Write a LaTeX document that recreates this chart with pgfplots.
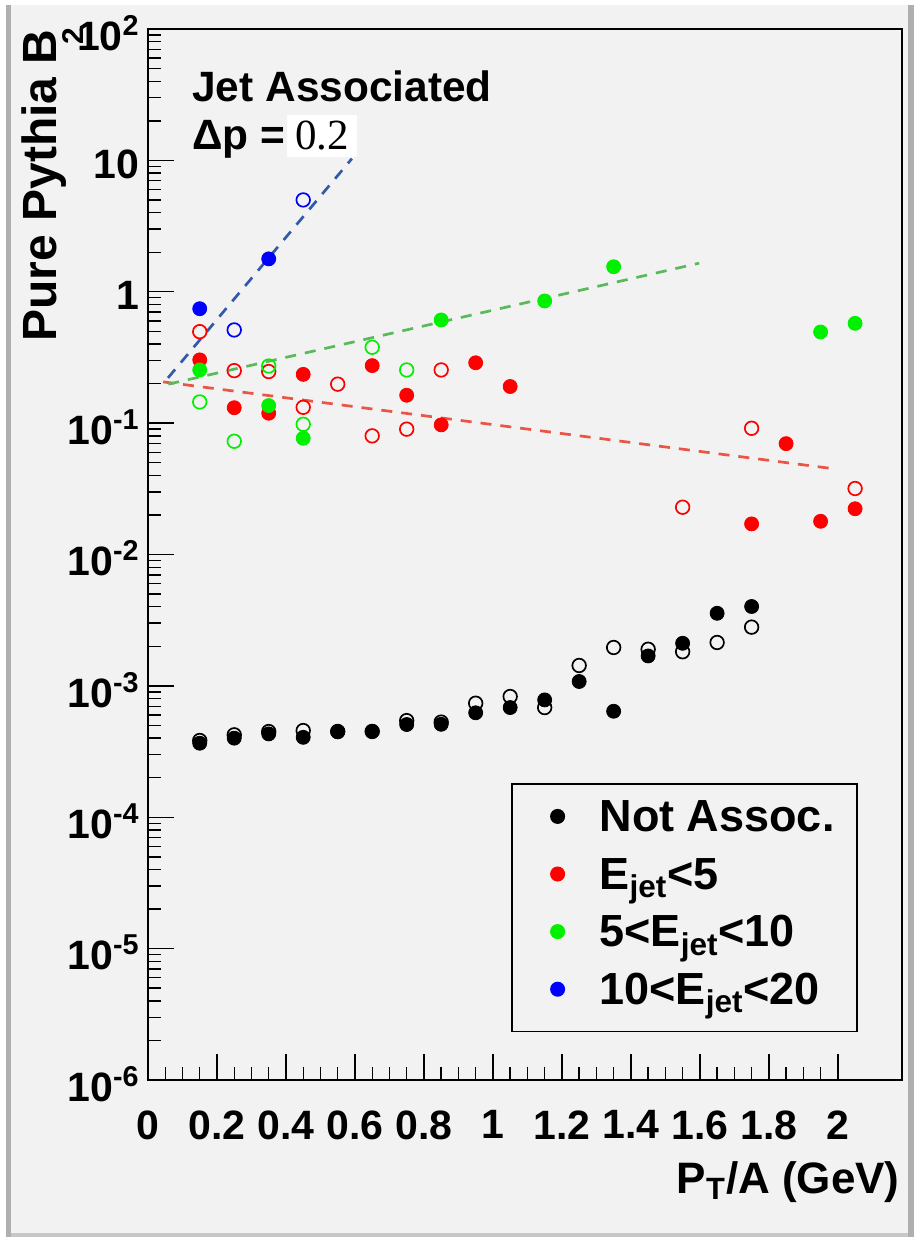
\documentclass[border=0pt]{standalone}
\usepackage{fontspec}
\setmainfont{Liberation Sans}
\newfontfamily\serifnum{Liberation Serif}
\usepackage{pgfplots}
\pgfplotsset{compat=1.18}
\definecolor{rootbg}{RGB}{242,242,242}
\definecolor{rootframe}{RGB}{175,175,175}
\definecolor{fitred}{RGB}{235,85,70}
\definecolor{fitgreen}{RGB}{90,185,90}
\definecolor{fitblue}{RGB}{50,90,170}
\definecolor{mred}{RGB}{255,0,0}
\definecolor{mgreen}{RGB}{0,240,0}
\definecolor{mblue}{RGB}{0,0,255}

\begin{document}
\begin{tikzpicture}
% canvas (1 px of the reference = 0.5pt, axis corner at the origin)
\fill[rootbg] (-74pt,-78.5pt) rectangle (386.5pt,540pt);
\fill[white] (-74pt,-78.5pt) rectangle (-71pt,540pt);
\fill[white] (-74pt,537.5pt) rectangle (386.5pt,540pt);
\fill[rootframe] (-71pt,-78.5pt) rectangle (-68.5pt,537.5pt);
\fill[rootframe] (380pt,-78.5pt) rectangle (383pt,537.5pt);
\fill[white] (383pt,-78.5pt) rectangle (386.5pt,540pt);
\fill[rootframe!70] (-68.5pt,-78.5pt) rectangle (380pt,-76.5pt);

\begin{axis}[
    scale only axis,
    width=377pt, height=525.5pt,
    xmin=0, xmax=2.186,
    ymode=log, ymin=1e-6, ymax=100,
    tick pos=left,
    tick align=inside,
    axis line style={line width=1.2pt},
    every tick/.style={black, line width=0.7pt},
    major tick length=13pt,
    minor tick length=6.5pt,
    xtick={0,0.2,...,2.01},
    xticklabels={0,0.2,0.4,0.6,0.8,1,1.2,1.4,1.6,1.8,2},
    minor x tick num=3,
    ytick={1e-6,1e-5,1e-4,1e-3,1e-2,1e-1,1,10,100},
    yticklabels={10\textsuperscript{-6},10\textsuperscript{-5},10\textsuperscript{-4},10\textsuperscript{-3},10\textsuperscript{-2},10\textsuperscript{-1},1,10,10\textsuperscript{2}},
    tick label style={font=\fontsize{20.5}{24}\selectfont\bfseries},
    xticklabel style={anchor=north, inner sep=0pt, yshift=-15pt},
    yticklabel style={anchor=east, inner sep=0pt, xshift=-4pt, yshift=-2pt},
    legend cell align=left,
    legend style={at={(0.482,0.2823)}, anchor=north west,
        draw=black, line width=0.9pt, fill=none,
        font=\fontsize{22.5}{27}\selectfont\bfseries,
        inner xsep=11.2pt, inner ysep=6.6pt,
        column sep=9.5pt, row sep=4.8pt,
        cells={anchor=base west},
        nodes={inner sep=0pt, text height=17pt, text depth=7pt}},
    legend image code/.code={\path (0pt,0pt) (22pt,0pt);
        \draw[#1] plot coordinates {(11pt,7.5pt)};},
]
\addlegendimage{only marks, mark=*, mark size=3.3pt, black}
\addlegendentry{Not Assoc.}
\addlegendimage{only marks, mark=*, mark size=3.3pt, mred}
\addlegendentry{E\textsubscript{jet}<5}
\addlegendimage{only marks, mark=*, mark size=3.3pt, mgreen}
\addlegendentry{5<E\textsubscript{jet}<10}
\addlegendimage{only marks, mark=*, mark size=3.3pt, mblue}
\addlegendentry{10<E\textsubscript{jet}<20}

% not associated
\addplot[forget plot, only marks, mark=o, mark size=3.4pt, black, line width=0.85pt] coordinates {
(0.15,3.84e-4)(0.25,4.24e-4)(0.35,4.49e-4)(0.45,4.57e-4)(0.55,4.5e-4)(0.65,4.5e-4)
(0.75,5.44e-4)(0.85,5.3e-4)(0.95,7.38e-4)(1.05,8.3e-4)(1.15,6.84e-4)(1.25,1.43e-3)
(1.35,1.96e-3)(1.45,1.90e-3)(1.55,1.82e-3)(1.65,2.14e-3)(1.75,2.80e-3)};
\addplot[forget plot, only marks, mark=*, mark size=3.5pt, black] coordinates {
(0.15,3.66e-4)(0.25,4.0e-4)(0.35,4.31e-4)(0.45,4.06e-4)(0.55,4.47e-4)(0.65,4.5e-4)
(0.75,5.08e-4)(0.85,5.1e-4)(0.95,6.24e-4)(1.05,6.84e-4)(1.15,7.82e-4)(1.25,1.08e-3)
(1.35,6.41e-4)(1.45,1.69e-3)(1.55,2.11e-3)(1.65,3.57e-3)(1.75,4.02e-3)};

% E_jet < 5
\addplot[forget plot, only marks, mark=o, mark size=3.4pt, mred, line width=0.85pt] coordinates {
(0.15,0.497)(0.25,0.251)(0.35,0.247)(0.45,0.132)(0.55,0.198)(0.65,0.080)
(0.75,0.090)(0.85,0.254)(1.55,0.0229)(1.75,0.0914)(2.05,0.0318)};
\addplot[forget plot, only marks, mark=*, mark size=3.5pt, mred] coordinates {
(0.15,0.303)(0.25,0.131)(0.35,0.119)(0.45,0.235)(0.65,0.274)(0.75,0.163)
(0.85,0.097)(0.95,0.288)(1.05,0.190)(1.75,0.0171)(1.85,0.0698)(1.95,0.0179)(2.05,0.0223)};

% 5 < E_jet < 10
\addplot[forget plot, only marks, mark=o, mark size=3.4pt, mgreen, line width=0.85pt] coordinates {
(0.15,0.145)(0.25,0.0728)(0.35,0.272)(0.45,0.098)(0.65,0.378)(0.75,0.254)};
\addplot[forget plot, only marks, mark=*, mark size=3.5pt, mgreen] coordinates {
(0.15,0.254)(0.35,0.136)(0.45,0.0767)(0.85,0.610)(1.15,0.851)(1.35,1.55)(1.95,0.494)(2.05,0.575)};

% 10 < E_jet < 20
\addplot[forget plot, only marks, mark=o, mark size=3.4pt, mblue, line width=0.85pt] coordinates {
(0.25,0.512)(0.45,5.0)};
\addplot[forget plot, only marks, mark=*, mark size=3.5pt, mblue] coordinates {
(0.15,0.743)(0.35,1.78)};

% fits
\addplot[forget plot, fitred, line width=1.35pt, dash pattern=on 5.5pt off 4.5pt] coordinates {(0.044,0.206)(1.975,0.0454)};
\addplot[forget plot, fitgreen, line width=1.35pt, dash pattern=on 5.5pt off 4.5pt] coordinates {(0.059,0.198)(1.598,1.65)};
\addplot[forget plot, fitblue, line width=1.35pt, dash pattern=on 5.5pt off 4.5pt] coordinates {(0.058,0.221)(0.591,10.3)};
\end{axis}

% texts
\node[anchor=base west, inner sep=0pt, font=\fontsize{21.2}{25}\selectfont\bfseries] at (22pt,489.2pt) {Jet Associated};
\node[anchor=base west, inner sep=0pt, font=\fontsize{21.2}{25}\selectfont\bfseries] at (22pt,465pt) {Δp =};
\node[fill=white, inner sep=0pt, minimum width=35pt, minimum height=21pt, font=\fontsize{21.5}{24}\selectfont\serifnum] at (87pt,472pt) {0.2};
\node[rotate=90, anchor=base east, inner sep=0pt, font=\fontsize{24}{28}\selectfont\bfseries] at (-45.5pt,525.5pt) {Pure Pythia B};
\node[rotate=90, inner sep=0pt, font=\fontsize{15}{17}\selectfont\bfseries] at (-37.5pt,522pt) {2};
\node[anchor=base east, inner sep=0pt, font=\fontsize{22}{26}\selectfont\bfseries] at (376pt,-56.5pt) {P\textsubscript{T}/A (GeV)};

\pgfresetboundingbox
\path[use as bounding box] (-74pt,-78.5pt) rectangle (386.5pt,540pt);
\end{tikzpicture}
\end{document}
